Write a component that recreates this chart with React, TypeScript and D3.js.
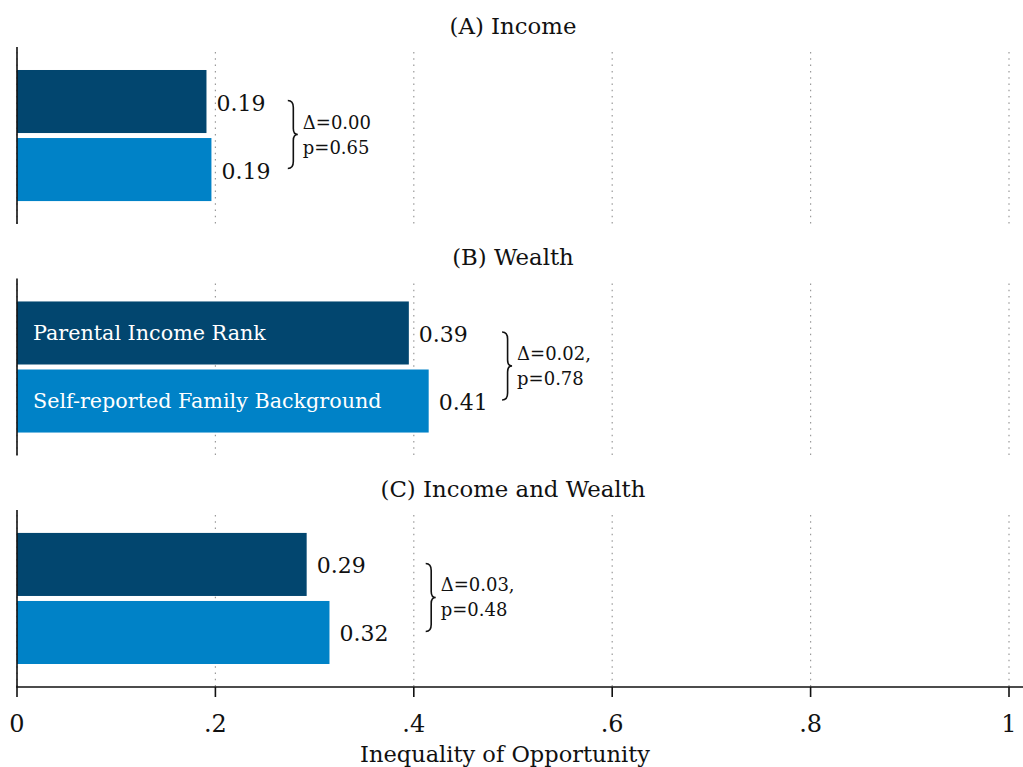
import React from 'react';
import * as d3 from 'd3';

// panels and series
const panels = ['(A) Income', '(B) Wealth', '(C) Income and Wealth'];
const seriesNames = ['Parental Income Rank', 'Self-reported Family Background'];
const parentalRank = [0.191, 0.395, 0.292];
const selfReported = [0.196, 0.415, 0.315];
const parentalLabels = ['0.19', '0.39', '0.29'];
const selfLabels = ['0.19', '0.41', '0.32'];
// difference test annotations
const deltaText = ['\u0394=0.00', '\u0394=0.02,', '\u0394=0.03,'];
const pText = ['p=0.65', 'p=0.78', 'p=0.48'];
const braceAt = [0.273, 0.489, 0.412];
// x axis
const xTicks = [0, 0.2, 0.4, 0.6, 0.8, 1];
const xTickLabels = ['0', '.2', '.4', '.6', '.8', '1'];
const xTitle = 'Inequality of Opportunity';

const colors = ['#02466F', '#0082C7'];
const font = "'DejaVu Serif', 'Liberation Serif', serif";

const W = 1023, H = 767;

function bracePath(x: number, t: number, b: number) {
  const w = 10, m = (t + b) / 2, s = w * 0.55;
  return `M${x},${t} Q${x + s},${t} ${x + s},${t + 7} L${x + s},${m - 6} Q${x + s},${m} ${x + w},${m}` +
    ` Q${x + s},${m} ${x + s},${m + 6} L${x + s},${b - 7} Q${x + s},${b} ${x},${b}`;
}

export default function App() {
  const x = d3.scaleLinear().domain([0, 1]).range([17, 1009]);
  const yPanel = d3.scaleBand<string>().domain(panels).range([47, 687]).paddingInner(0.235).paddingOuter(0);
  const yBar = d3.scaleBand<string>().domain(seriesNames).range([0, yPanel.bandwidth()])
    .paddingInner(0.0735).paddingOuter(0.338);

  const data = panels.map((p, i) => ({
    panel: p,
    vals: [parentalRank[i], selfReported[i]],
    labels: [parentalLabels[i], selfLabels[i]],
    delta: deltaText[i],
    p: pText[i],
    brace: braceAt[i],
  }));
  const bottom = yPanel(panels[2])! + yPanel.bandwidth();

  return (
    <div style={{ position: 'absolute', left: 0, top: 0 }}>
      <svg width={W} height={H} style={{ display: 'block', background: '#fff' }} fontFamily={font}>
        {data.map((d, i) => {
          const top = yPanel(d.panel)!;
          const ph = yPanel.bandwidth();
          const bw = yBar.bandwidth();
          const y0 = top + yBar(seriesNames[0])!;
          const y1 = top + yBar(seriesNames[1])!;
          const mid = (y0 + bw + y1) / 2;
          return (
            <g key={d.panel}>
              <text x={513} y={top - 13} textAnchor="middle" fontSize={22.8} fill="#111">{d.panel}</text>
              {xTicks.map((t) => (
                <line key={t} x1={x(t)} x2={x(t)} y1={top + 5} y2={top + ph} stroke="#9a9a9a"
                  strokeWidth={1.2} strokeDasharray="1.5,4.8" />
              ))}
              {d.vals.map((v, j) => {
                const yy = top + yBar(seriesNames[j])!;
                return (
                  <g key={j}>
                    <rect x={x(0)} y={yy} width={x(v) - x(0)} height={bw} fill={colors[j]} />
                    <text x={x(v) + 10} y={yy + bw / 2 + 9} fontSize={22} fill="#111">{d.labels[j]}</text>
                    {i === 1 && (
                      <text x={x(0) + 16} y={yy + bw / 2 + 7} fontSize={20.7} fill="#fff">{seriesNames[j]}</text>
                    )}
                  </g>
                );
              })}
              <path d={bracePath(x(d.brace), mid - 35, mid + 33)} fill="none" stroke="#111" strokeWidth={1.6} />
              <text x={x(d.brace) + 15} y={mid - 7} fontSize={18} fill="#111">{d.delta}</text>
              <text x={x(d.brace) + 15} y={mid + 18} fontSize={18} fill="#111">{d.p}</text>
              <line x1={x(0)} x2={x(0)} y1={top} y2={top + ph} stroke="#111" strokeWidth={1.6} />
            </g>
          );
        })}
        <line x1={x(0) - 0.8} x2={W} y1={bottom} y2={bottom} stroke="#111" strokeWidth={1.6} />
        {xTicks.map((t, i) => (
          <g key={t}>
            <line x1={x(t)} x2={x(t)} y1={bottom} y2={bottom + 10} stroke="#111" strokeWidth={1.6} />
            <text x={x(t)} y={bottom + 45} textAnchor="middle" fontSize={24} fill="#111">{xTickLabels[i]}</text>
          </g>
        ))}
        <text x={505} y={762} textAnchor="middle" fontSize={22.5} fill="#111">{xTitle}</text>
      </svg>
    </div>
  );
}
